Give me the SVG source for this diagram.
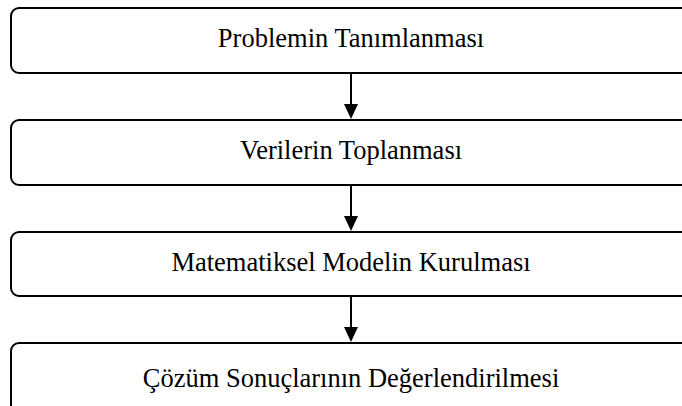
<svg xmlns="http://www.w3.org/2000/svg" width="682" height="406" viewBox="0 0 682 406">
  <style>
    .box { fill: #ffffff; stroke: #000000; stroke-width: 2; }
    .label { font-family: "Liberation Serif", "Times New Roman", serif; font-size: 26.5px; fill: #000000; text-anchor: middle; }
    .link { stroke: #000000; stroke-width: 2; fill: none; }
    .head { fill: #000000; }
  </style>
  <rect width="682" height="406" fill="#ffffff"/>

  <g id="node-problem">
    <rect class="box" x="11" y="8" width="700" height="65" rx="8" ry="8"/>
    <text class="label" x="351" y="47">Problemin Tanımlanması</text>
  </g>
  <g id="node-data">
    <rect class="box" x="11" y="120" width="700" height="65" rx="8" ry="8"/>
    <text class="label" x="351" y="159">Verilerin Toplanması</text>
  </g>
  <g id="node-model">
    <rect class="box" x="11" y="232" width="700" height="64" rx="8" ry="8"/>
    <text class="label" x="351" y="271">Matematiksel Modelin Kurulması</text>
  </g>
  <g id="node-evaluation">
    <rect class="box" x="11" y="343" width="700" height="80" rx="8" ry="8"/>
    <text class="label" x="351" y="387">Çözüm Sonuçlarının Değerlendirilmesi</text>
  </g>

  <g id="connectors">
    <line class="link" x1="351" y1="73" x2="351" y2="106"/>
    <path class="head" d="M344,104 L358,104 L351,119 Z"/>
    <line class="link" x1="351" y1="185" x2="351" y2="218"/>
    <path class="head" d="M344,216 L358,216 L351,231 Z"/>
    <line class="link" x1="351" y1="296" x2="351" y2="329"/>
    <path class="head" d="M344,327 L358,327 L351,342 Z"/>
  </g>
</svg>
